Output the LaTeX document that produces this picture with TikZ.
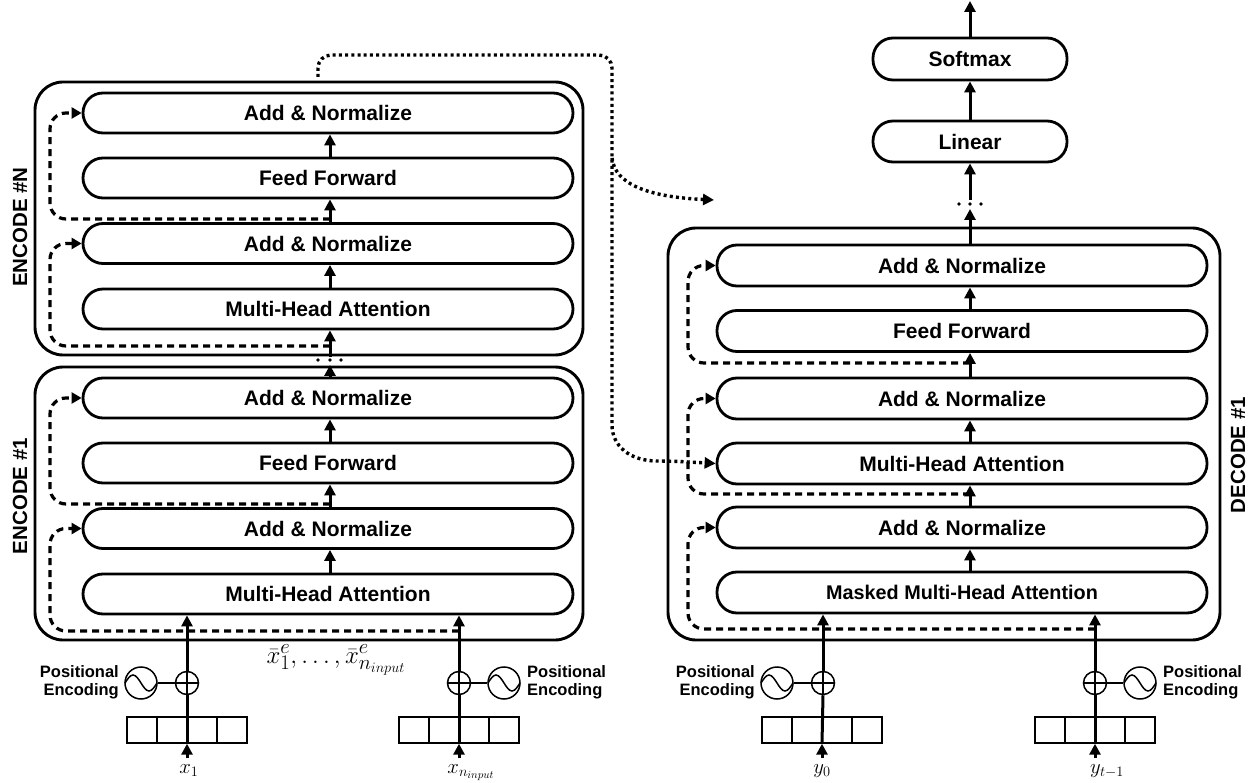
\documentclass[tikz,border=0pt]{standalone}
\usepackage{fontspec}
\setmainfont{Liberation Sans}
\usetikzlibrary{arrows.meta}
\newcommand\sinewave[1]{\draw[thinl] ([xshift=-16pt]#1.center) sin ++(8,-8) cos ++(8,8) sin ++(8,8) cos ++(8,-8);}
\newcommand\plussign[1]{\draw[thinl] (#1.north) -- (#1.south) (#1.west) -- (#1.east);}
\newcommand\embcells[1]{\draw[line width=1.4pt] ([xshift=-30pt]#1.north) -- ([xshift=-30pt]#1.south) ([xshift=30pt]#1.north) -- ([xshift=30pt]#1.south);}
\begin{document}
\begin{tikzpicture}[x=1pt,y=-1pt,
 blk/.style={draw,line width=2.8pt,rounded corners=20pt,minimum width=490pt,minimum height=40pt,inner sep=0pt,font=\fontsize{21}{25}\selectfont\bfseries},
 encbox/.style={draw,line width=2.9pt,rounded corners=28pt,inner sep=0pt},
 arr/.style={line width=3pt,-{Triangle[length=11pt,width=11pt]}},
 resarr/.style={line width=3.2pt,dash pattern=on 7pt off 5pt,rounded corners=16pt,-{Triangle[length=10pt,width=11pt]}},
 dotarr/.style={line width=3.4pt,dash pattern=on 3pt off 3.2pt,-{Triangle[length=11pt,width=11pt]}},
 plusc/.style={draw,circle,line width=1.5pt,minimum size=23pt,inner sep=0pt},
 sinec/.style={draw,circle,line width=1.5pt,minimum size=32pt,inner sep=0pt},
 emb/.style={draw,line width=1.4pt,minimum width=120pt,minimum height=26pt,inner sep=0pt},
 thinl/.style={line width=1.5pt},
 thk/.style={line width=3pt},
 posenc/.style={font=\fontsize{16.5}{18}\selectfont\bfseries,inner sep=0pt},
 lbl/.style={font=\fontsize{22}{26}\selectfont,inner sep=0pt,anchor=base},
 side/.style={font=\fontsize{20.5}{24}\selectfont\bfseries,rotate=90,inner sep=0pt},
]
\useasboundingbox (0,0) rectangle (1258,783);
\coordinate (EC) at (330,0);
\coordinate (DC) at (970,0);
\coordinate (EL) at (50,0);
\coordinate (DL) at (688,0);

% outer boxes
\node[encbox,minimum width=548pt,minimum height=273pt] (encN) at (309,218.5) {};
\node[encbox,minimum width=548pt,minimum height=273pt] (enc1) at (309,503.5) {};
\node[encbox,minimum width=552pt,minimum height=412pt] (dec) at (944,434) {};

\node[side] (lN) at (20,227) {ENCODE \#N};
\node[side] (l1) at (20,496) {ENCODE \#1};
\node[side] (lD) at (1238,455) {DECODE \#1};

% encoder N
\node[blk] (eNa) at (328,113) {Add \& Normalize};
\node[blk] (eNf) at (328,178) {Feed Forward};
\node[blk] (eNb) at (328,243.5) {Add \& Normalize};
\node[blk] (eNm) at (328,309) {Multi-Head Attention};
% encoder 1
\node[blk] (e1a) at (328,398) {Add \& Normalize};
\node[blk] (e1f) at (328,463) {Feed Forward};
\node[blk] (e1b) at (328,528.5) {Add \& Normalize};
\node[blk] (e1m) at (328,594) {Multi-Head Attention};
% decoder
\node[blk,minimum height=41pt] (da) at (962,265.5) {Add \& Normalize};
\node[blk,minimum height=41pt] (df) at (962,331) {Feed Forward};
\node[blk,minimum height=41pt] (db) at (962,398.5) {Add \& Normalize};
\node[blk,minimum height=41pt] (dm) at (962,463.5) {Multi-Head Attention};
\node[blk,minimum height=41pt] (dn) at (962,527.5) {Add \& Normalize};
\node[blk,minimum height=41pt,font=\fontsize{19.8}{24}\selectfont\bfseries] (dmm) at (962,592.5) {Masked Multi-Head Attention};
\node[blk,minimum width=194pt,minimum height=41pt] (lin) at (970,141.5) {Linear};
\node[blk,minimum width=194pt,minimum height=42pt] (soft) at (970,59) {Softmax};
\coordinate (top) at (970,1);
\coordinate (dl1) at (970,209);
\coordinate (dl2) at (970,200);
\coordinate (el1) at (330,365);
\coordinate (el2) at (330,357);

% encoder central arrows
\draw[arr] (e1m.north -| EC) -- (e1b.south -| EC);
\draw[arr] (e1b.north -| EC) -- (e1f.south -| EC);
\draw[arr] (e1f.north -| EC) -- (e1a.south -| EC);
\draw[arr] (e1a.north -| EC) -- (el1);
\draw[arr] (el2) -- (eNm.south -| EC);
\draw[arr] (eNm.north -| EC) -- (eNb.south -| EC);
\draw[arr] (eNb.north -| EC) -- (eNf.south -| EC);
\draw[arr] (eNf.north -| EC) -- (eNa.south -| EC);
\foreach \xx in {318,330,341} \fill (\xx,360) circle (1.8pt);

% decoder central arrows
\draw[arr] (dmm.north -| DC) -- (dn.south -| DC);
\draw[arr] (dn.north -| DC) -- (dm.south -| DC);
\draw[arr] (dm.north -| DC) -- (db.south -| DC);
\draw[arr] (db.north -| DC) -- (df.south -| DC);
\draw[arr] (df.north -| DC) -- (da.south -| DC);
\draw[arr] (da.north -| DC) -- (dl1);
\draw[arr] (dl2) -- (lin.south);
\draw[arr] (lin.north) -- (soft.south);
\draw[arr] (soft.north) -- (top);
\foreach \xx in {959,970,981} \fill (\xx,204) circle (1.8pt);

% residual dashed arrows
\draw[resarr] (330,346) -- (50,346) -- (eNb.west -| EL) -- (eNb.west);
\draw[resarr] (330,219) -- (50,219) -- (eNa.west -| EL) -- (eNa.west);
\draw[resarr] (459,631) -- (50,631) -- (e1b.west -| EL) -- (e1b.west);
\draw[resarr] (330,504) -- (50,504) -- (e1a.west -| EL) -- (e1a.west);
\draw[resarr] (1095,629) -- (688,629) -- (dn.west -| DL) -- (dn.west);
\draw[resarr] (970,494) -- (688,494) -- (db.west -| DL) -- (db.west);
\draw[resarr] (970,363) -- (688,363) -- (da.west -| DL) -- (da.west);

% dotted encoder -> decoder
\coordinate (ds) at (318,77);
\coordinate (dbr) at (714,200);
\draw[dotarr,rounded corners=13pt] (ds) -- (318,55) -- (612,55) -- (612,412) .. controls (612,446) and (630,461) .. (670,461) -- (dm.west);
\draw[dotarr] (612,158) .. controls (615,185) and (650,197) .. (dbr);

% input x_1
\node[plusc] (p1) at (187,683) {};
\node[sinec] (s1) at (141,683) {};
\node[emb] (b1) at (187,730) {};
\node[lbl] (x1) at (189,773) {$x_1$};
\node[posenc,anchor=east,align=right] (t1) at (119,682) {Positional\\Encoding};
% input x_n
\node[plusc] (p2) at (459,683) {};
\node[sinec] (s2) at (504,683) {};
\node[emb] (b2) at (459,730) {};
\node[lbl] (x2) at (471,773) {$x_{n_{input}}$};
\node[posenc,anchor=west,align=left] (t2) at (527,682) {Positional\\Encoding};
% input y_0
\node[plusc] (p3) at (823,683) {};
\node[sinec] (s3) at (777,683) {};
\node[emb] (b3) at (822,730) {};
\node[lbl] (y1) at (822,773) {$y_0$};
\node[posenc,anchor=east,align=right] (t3) at (755,682) {Positional\\Encoding};
% input y_{t-1}
\node[plusc] (p4) at (1095,683) {};
\node[sinec] (s4) at (1140,683) {};
\node[emb] (b4) at (1095,730) {};
\node[lbl] (y2) at (1107,773) {$y_{t-1}$};
\node[posenc,anchor=west,align=left] (t4) at (1163,682) {Positional\\Encoding};

\foreach \n in {1,2,3,4}{
  \plussign{p\n}
  \sinewave{s\n}
  \embcells{b\n}
}
\draw[thinl] (s1.east) -- (p1.west);
\draw[thinl] (p2.east) -- (s2.west);
\draw[thinl] (s3.east) -- (p3.west);
\draw[thinl] (p4.east) -- (s4.west);

\draw[thk] (b1.south) -- (p1.south);
\draw[thk] (b2.south) -- (p2.south);
\draw[thk] (b3.south) -- (p3.south);
\draw[thk] (b4.south) -- (p4.south);
\draw[arr] (p1.north) -- (p1.north |- e1m.south);
\draw[arr] (p2.north) -- (p2.north |- e1m.south);
\draw[arr] (p3.north) -- (p3.north |- dmm.south);
\draw[arr] (p4.north) -- (p4.north |- dmm.south);
\draw[arr] (b1.south |- 0,758) -- (b1.south);
\draw[arr] (b2.south |- 0,758) -- (b2.south);
\draw[arr] (b3.south |- 0,758) -- (b3.south);
\draw[arr] (b4.south |- 0,758) -- (b4.south);

\node[font=\fontsize{29}{34}\selectfont,inner sep=0pt,anchor=base] (xe) at (336,663) {$\bar{x}^e_1, \ldots, \bar{x}^e_{n_{input}}$};
\end{tikzpicture}
\end{document}
